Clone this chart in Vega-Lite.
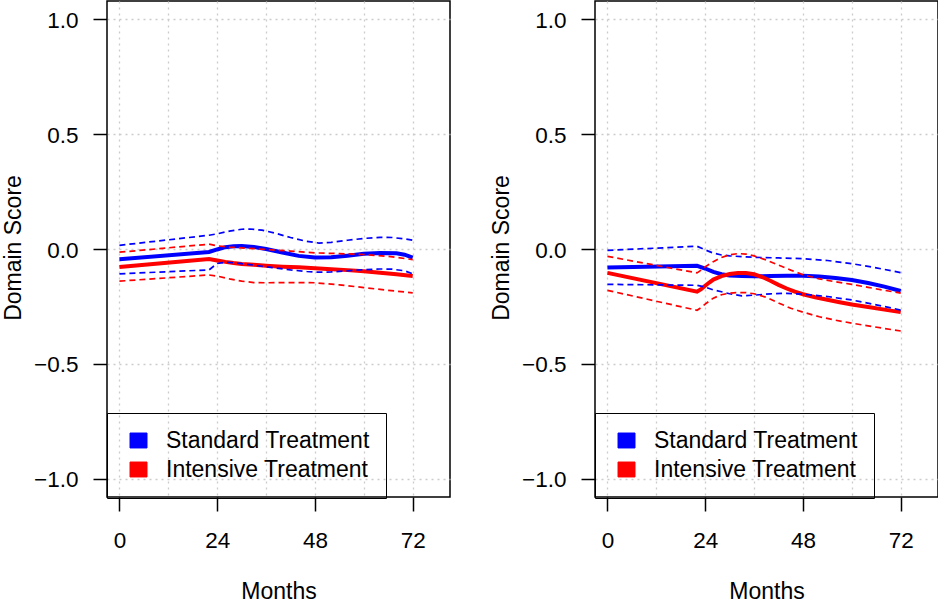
{
  "$schema": "https://vega.github.io/schema/vega-lite/v6.json",
  "padding": {"left": 1, "top": 0, "right": 0, "bottom": 0},
  "spacing": 145,
  "bounds": "flush",
  "resolve": {"legend": {"color": "independent"}},
  "datasets": {
    "d": [
      {"p":"L","g":"Standard Treatment","s":"mean","m":0,"v":-0.045},
      {"p":"L","g":"Standard Treatment","s":"mean","m":22,"v":-0.013},
      {"p":"L","g":"Standard Treatment","s":"mean","m":24,"v":-0.002},
      {"p":"L","g":"Standard Treatment","s":"mean","m":26,"v":0.008},
      {"p":"L","g":"Standard Treatment","s":"mean","m":28,"v":0.012},
      {"p":"L","g":"Standard Treatment","s":"mean","m":30,"v":0.013},
      {"p":"L","g":"Standard Treatment","s":"mean","m":33,"v":0.009},
      {"p":"L","g":"Standard Treatment","s":"mean","m":36,"v":0.000},
      {"p":"L","g":"Standard Treatment","s":"mean","m":40,"v":-0.015},
      {"p":"L","g":"Standard Treatment","s":"mean","m":44,"v":-0.030},
      {"p":"L","g":"Standard Treatment","s":"mean","m":48,"v":-0.037},
      {"p":"L","g":"Standard Treatment","s":"mean","m":52,"v":-0.036},
      {"p":"L","g":"Standard Treatment","s":"mean","m":56,"v":-0.029},
      {"p":"L","g":"Standard Treatment","s":"mean","m":60,"v":-0.021},
      {"p":"L","g":"Standard Treatment","s":"mean","m":64,"v":-0.017},
      {"p":"L","g":"Standard Treatment","s":"mean","m":68,"v":-0.019},
      {"p":"L","g":"Standard Treatment","s":"mean","m":70,"v":-0.025},
      {"p":"L","g":"Standard Treatment","s":"mean","m":72,"v":-0.038},

      {"p":"L","g":"Standard Treatment","s":"hi","m":0,"v":0.016},
      {"p":"L","g":"Standard Treatment","s":"hi","m":22,"v":0.060},
      {"p":"L","g":"Standard Treatment","s":"hi","m":24,"v":0.066},
      {"p":"L","g":"Standard Treatment","s":"hi","m":27,"v":0.078},
      {"p":"L","g":"Standard Treatment","s":"hi","m":30,"v":0.086},
      {"p":"L","g":"Standard Treatment","s":"hi","m":32,"v":0.087},
      {"p":"L","g":"Standard Treatment","s":"hi","m":35,"v":0.082},
      {"p":"L","g":"Standard Treatment","s":"hi","m":38,"v":0.070},
      {"p":"L","g":"Standard Treatment","s":"hi","m":42,"v":0.050},
      {"p":"L","g":"Standard Treatment","s":"hi","m":46,"v":0.033},
      {"p":"L","g":"Standard Treatment","s":"hi","m":49,"v":0.026},
      {"p":"L","g":"Standard Treatment","s":"hi","m":52,"v":0.029},
      {"p":"L","g":"Standard Treatment","s":"hi","m":56,"v":0.038},
      {"p":"L","g":"Standard Treatment","s":"hi","m":60,"v":0.046},
      {"p":"L","g":"Standard Treatment","s":"hi","m":64,"v":0.051},
      {"p":"L","g":"Standard Treatment","s":"hi","m":67,"v":0.050},
      {"p":"L","g":"Standard Treatment","s":"hi","m":70,"v":0.044},
      {"p":"L","g":"Standard Treatment","s":"hi","m":72,"v":0.038},

      {"p":"L","g":"Standard Treatment","s":"lo","m":0,"v":-0.108},
      {"p":"L","g":"Standard Treatment","s":"lo","m":22,"v":-0.091},
      {"p":"L","g":"Standard Treatment","s":"lo","m":24,"v":-0.063},
      {"p":"L","g":"Standard Treatment","s":"lo","m":26,"v":-0.058},
      {"p":"L","g":"Standard Treatment","s":"lo","m":28,"v":-0.060},
      {"p":"L","g":"Standard Treatment","s":"lo","m":30,"v":-0.064},
      {"p":"L","g":"Standard Treatment","s":"lo","m":32,"v":-0.068},
      {"p":"L","g":"Standard Treatment","s":"lo","m":35,"v":-0.075},
      {"p":"L","g":"Standard Treatment","s":"lo","m":38,"v":-0.082},
      {"p":"L","g":"Standard Treatment","s":"lo","m":42,"v":-0.091},
      {"p":"L","g":"Standard Treatment","s":"lo","m":46,"v":-0.098},
      {"p":"L","g":"Standard Treatment","s":"lo","m":49,"v":-0.101},
      {"p":"L","g":"Standard Treatment","s":"lo","m":52,"v":-0.100},
      {"p":"L","g":"Standard Treatment","s":"lo","m":56,"v":-0.095},
      {"p":"L","g":"Standard Treatment","s":"lo","m":60,"v":-0.090},
      {"p":"L","g":"Standard Treatment","s":"lo","m":64,"v":-0.087},
      {"p":"L","g":"Standard Treatment","s":"lo","m":67,"v":-0.088},
      {"p":"L","g":"Standard Treatment","s":"lo","m":70,"v":-0.095},
      {"p":"L","g":"Standard Treatment","s":"lo","m":72,"v":-0.108},

      {"p":"L","g":"Intensive Treatment","s":"mean","m":0,"v":-0.078},
      {"p":"L","g":"Intensive Treatment","s":"mean","m":22,"v":-0.044},
      {"p":"L","g":"Intensive Treatment","s":"mean","m":24,"v":-0.050},
      {"p":"L","g":"Intensive Treatment","s":"mean","m":26,"v":-0.056},
      {"p":"L","g":"Intensive Treatment","s":"mean","m":28,"v":-0.061},
      {"p":"L","g":"Intensive Treatment","s":"mean","m":30,"v":-0.065},
      {"p":"L","g":"Intensive Treatment","s":"mean","m":33,"v":-0.069},
      {"p":"L","g":"Intensive Treatment","s":"mean","m":36,"v":-0.073},
      {"p":"L","g":"Intensive Treatment","s":"mean","m":40,"v":-0.077},
      {"p":"L","g":"Intensive Treatment","s":"mean","m":44,"v":-0.080},
      {"p":"L","g":"Intensive Treatment","s":"mean","m":48,"v":-0.084},
      {"p":"L","g":"Intensive Treatment","s":"mean","m":52,"v":-0.088},
      {"p":"L","g":"Intensive Treatment","s":"mean","m":56,"v":-0.092},
      {"p":"L","g":"Intensive Treatment","s":"mean","m":60,"v":-0.097},
      {"p":"L","g":"Intensive Treatment","s":"mean","m":64,"v":-0.103},
      {"p":"L","g":"Intensive Treatment","s":"mean","m":68,"v":-0.110},
      {"p":"L","g":"Intensive Treatment","s":"mean","m":72,"v":-0.118},

      {"p":"L","g":"Intensive Treatment","s":"hi","m":0,"v":-0.014},
      {"p":"L","g":"Intensive Treatment","s":"hi","m":22,"v":0.021},
      {"p":"L","g":"Intensive Treatment","s":"hi","m":24,"v":0.014},
      {"p":"L","g":"Intensive Treatment","s":"hi","m":27,"v":0.008},
      {"p":"L","g":"Intensive Treatment","s":"hi","m":30,"v":0.005},
      {"p":"L","g":"Intensive Treatment","s":"hi","m":36,"v":-0.002},
      {"p":"L","g":"Intensive Treatment","s":"hi","m":42,"v":-0.009},
      {"p":"L","g":"Intensive Treatment","s":"hi","m":48,"v":-0.017},
      {"p":"L","g":"Intensive Treatment","s":"hi","m":54,"v":-0.020},
      {"p":"L","g":"Intensive Treatment","s":"hi","m":60,"v":-0.024},
      {"p":"L","g":"Intensive Treatment","s":"hi","m":66,"v":-0.032},
      {"p":"L","g":"Intensive Treatment","s":"hi","m":72,"v":-0.046},

      {"p":"L","g":"Intensive Treatment","s":"lo","m":0,"v":-0.140},
      {"p":"L","g":"Intensive Treatment","s":"lo","m":22,"v":-0.113},
      {"p":"L","g":"Intensive Treatment","s":"lo","m":24,"v":-0.118},
      {"p":"L","g":"Intensive Treatment","s":"lo","m":27,"v":-0.130},
      {"p":"L","g":"Intensive Treatment","s":"lo","m":30,"v":-0.140},
      {"p":"L","g":"Intensive Treatment","s":"lo","m":33,"v":-0.146},
      {"p":"L","g":"Intensive Treatment","s":"lo","m":36,"v":-0.147},
      {"p":"L","g":"Intensive Treatment","s":"lo","m":42,"v":-0.146},
      {"p":"L","g":"Intensive Treatment","s":"lo","m":48,"v":-0.147},
      {"p":"L","g":"Intensive Treatment","s":"lo","m":54,"v":-0.156},
      {"p":"L","g":"Intensive Treatment","s":"lo","m":60,"v":-0.168},
      {"p":"L","g":"Intensive Treatment","s":"lo","m":66,"v":-0.180},
      {"p":"L","g":"Intensive Treatment","s":"lo","m":72,"v":-0.191},

      {"p":"R","g":"Standard Treatment","s":"mean","m":0,"v":-0.081},
      {"p":"R","g":"Standard Treatment","s":"mean","m":22,"v":-0.073},
      {"p":"R","g":"Standard Treatment","s":"mean","m":24,"v":-0.085},
      {"p":"R","g":"Standard Treatment","s":"mean","m":26,"v":-0.100},
      {"p":"R","g":"Standard Treatment","s":"mean","m":28,"v":-0.110},
      {"p":"R","g":"Standard Treatment","s":"mean","m":30,"v":-0.115},
      {"p":"R","g":"Standard Treatment","s":"mean","m":33,"v":-0.118},
      {"p":"R","g":"Standard Treatment","s":"mean","m":36,"v":-0.119},
      {"p":"R","g":"Standard Treatment","s":"mean","m":40,"v":-0.118},
      {"p":"R","g":"Standard Treatment","s":"mean","m":44,"v":-0.117},
      {"p":"R","g":"Standard Treatment","s":"mean","m":48,"v":-0.117},
      {"p":"R","g":"Standard Treatment","s":"mean","m":52,"v":-0.120},
      {"p":"R","g":"Standard Treatment","s":"mean","m":56,"v":-0.126},
      {"p":"R","g":"Standard Treatment","s":"mean","m":60,"v":-0.135},
      {"p":"R","g":"Standard Treatment","s":"mean","m":64,"v":-0.148},
      {"p":"R","g":"Standard Treatment","s":"mean","m":68,"v":-0.164},
      {"p":"R","g":"Standard Treatment","s":"mean","m":72,"v":-0.183},

      {"p":"R","g":"Standard Treatment","s":"hi","m":0,"v":-0.006},
      {"p":"R","g":"Standard Treatment","s":"hi","m":22,"v":0.012},
      {"p":"R","g":"Standard Treatment","s":"hi","m":24,"v":-0.004},
      {"p":"R","g":"Standard Treatment","s":"hi","m":26,"v":-0.018},
      {"p":"R","g":"Standard Treatment","s":"hi","m":28,"v":-0.026},
      {"p":"R","g":"Standard Treatment","s":"hi","m":30,"v":-0.030},
      {"p":"R","g":"Standard Treatment","s":"hi","m":33,"v":-0.033},
      {"p":"R","g":"Standard Treatment","s":"hi","m":36,"v":-0.036},
      {"p":"R","g":"Standard Treatment","s":"hi","m":42,"v":-0.039},
      {"p":"R","g":"Standard Treatment","s":"hi","m":48,"v":-0.042},
      {"p":"R","g":"Standard Treatment","s":"hi","m":54,"v":-0.050},
      {"p":"R","g":"Standard Treatment","s":"hi","m":60,"v":-0.064},
      {"p":"R","g":"Standard Treatment","s":"hi","m":66,"v":-0.082},
      {"p":"R","g":"Standard Treatment","s":"hi","m":72,"v":-0.103},

      {"p":"R","g":"Standard Treatment","s":"lo","m":0,"v":-0.154},
      {"p":"R","g":"Standard Treatment","s":"lo","m":22,"v":-0.158},
      {"p":"R","g":"Standard Treatment","s":"lo","m":24,"v":-0.166},
      {"p":"R","g":"Standard Treatment","s":"lo","m":26,"v":-0.178},
      {"p":"R","g":"Standard Treatment","s":"lo","m":28,"v":-0.186},
      {"p":"R","g":"Standard Treatment","s":"lo","m":30,"v":-0.195},
      {"p":"R","g":"Standard Treatment","s":"lo","m":33,"v":-0.204},
      {"p":"R","g":"Standard Treatment","s":"lo","m":36,"v":-0.201},
      {"p":"R","g":"Standard Treatment","s":"lo","m":40,"v":-0.195},
      {"p":"R","g":"Standard Treatment","s":"lo","m":44,"v":-0.193},
      {"p":"R","g":"Standard Treatment","s":"lo","m":48,"v":-0.197},
      {"p":"R","g":"Standard Treatment","s":"lo","m":54,"v":-0.207},
      {"p":"R","g":"Standard Treatment","s":"lo","m":60,"v":-0.222},
      {"p":"R","g":"Standard Treatment","s":"lo","m":66,"v":-0.243},
      {"p":"R","g":"Standard Treatment","s":"lo","m":72,"v":-0.266},

      {"p":"R","g":"Intensive Treatment","s":"mean","m":0,"v":-0.104},
      {"p":"R","g":"Intensive Treatment","s":"mean","m":22,"v":-0.186},
      {"p":"R","g":"Intensive Treatment","s":"mean","m":23,"v":-0.175},
      {"p":"R","g":"Intensive Treatment","s":"mean","m":24,"v":-0.160},
      {"p":"R","g":"Intensive Treatment","s":"mean","m":25,"v":-0.146},
      {"p":"R","g":"Intensive Treatment","s":"mean","m":26,"v":-0.133},
      {"p":"R","g":"Intensive Treatment","s":"mean","m":28,"v":-0.118},
      {"p":"R","g":"Intensive Treatment","s":"mean","m":30,"v":-0.109},
      {"p":"R","g":"Intensive Treatment","s":"mean","m":32,"v":-0.105},
      {"p":"R","g":"Intensive Treatment","s":"mean","m":34,"v":-0.105},
      {"p":"R","g":"Intensive Treatment","s":"mean","m":36,"v":-0.110},
      {"p":"R","g":"Intensive Treatment","s":"mean","m":38,"v":-0.122},
      {"p":"R","g":"Intensive Treatment","s":"mean","m":40,"v":-0.138},
      {"p":"R","g":"Intensive Treatment","s":"mean","m":42,"v":-0.156},
      {"p":"R","g":"Intensive Treatment","s":"mean","m":44,"v":-0.172},
      {"p":"R","g":"Intensive Treatment","s":"mean","m":46,"v":-0.186},
      {"p":"R","g":"Intensive Treatment","s":"mean","m":48,"v":-0.197},
      {"p":"R","g":"Intensive Treatment","s":"mean","m":51,"v":-0.210},
      {"p":"R","g":"Intensive Treatment","s":"mean","m":54,"v":-0.221},
      {"p":"R","g":"Intensive Treatment","s":"mean","m":57,"v":-0.232},
      {"p":"R","g":"Intensive Treatment","s":"mean","m":60,"v":-0.242},
      {"p":"R","g":"Intensive Treatment","s":"mean","m":64,"v":-0.253},
      {"p":"R","g":"Intensive Treatment","s":"mean","m":68,"v":-0.264},
      {"p":"R","g":"Intensive Treatment","s":"mean","m":72,"v":-0.275},

      {"p":"R","g":"Intensive Treatment","s":"hi","m":0,"v":-0.032},
      {"p":"R","g":"Intensive Treatment","s":"hi","m":22,"v":-0.104},
      {"p":"R","g":"Intensive Treatment","s":"hi","m":23,"v":-0.092},
      {"p":"R","g":"Intensive Treatment","s":"hi","m":24,"v":-0.078},
      {"p":"R","g":"Intensive Treatment","s":"hi","m":26,"v":-0.055},
      {"p":"R","g":"Intensive Treatment","s":"hi","m":28,"v":-0.037},
      {"p":"R","g":"Intensive Treatment","s":"hi","m":30,"v":-0.025},
      {"p":"R","g":"Intensive Treatment","s":"hi","m":32,"v":-0.020},
      {"p":"R","g":"Intensive Treatment","s":"hi","m":34,"v":-0.022},
      {"p":"R","g":"Intensive Treatment","s":"hi","m":36,"v":-0.030},
      {"p":"R","g":"Intensive Treatment","s":"hi","m":39,"v":-0.048},
      {"p":"R","g":"Intensive Treatment","s":"hi","m":42,"v":-0.070},
      {"p":"R","g":"Intensive Treatment","s":"hi","m":45,"v":-0.092},
      {"p":"R","g":"Intensive Treatment","s":"hi","m":48,"v":-0.112},
      {"p":"R","g":"Intensive Treatment","s":"hi","m":52,"v":-0.130},
      {"p":"R","g":"Intensive Treatment","s":"hi","m":56,"v":-0.143},
      {"p":"R","g":"Intensive Treatment","s":"hi","m":60,"v":-0.154},
      {"p":"R","g":"Intensive Treatment","s":"hi","m":64,"v":-0.167},
      {"p":"R","g":"Intensive Treatment","s":"hi","m":68,"v":-0.180},
      {"p":"R","g":"Intensive Treatment","s":"hi","m":72,"v":-0.192},

      {"p":"R","g":"Intensive Treatment","s":"lo","m":0,"v":-0.180},
      {"p":"R","g":"Intensive Treatment","s":"lo","m":22,"v":-0.267},
      {"p":"R","g":"Intensive Treatment","s":"lo","m":23,"v":-0.255},
      {"p":"R","g":"Intensive Treatment","s":"lo","m":24,"v":-0.240},
      {"p":"R","g":"Intensive Treatment","s":"lo","m":26,"v":-0.214},
      {"p":"R","g":"Intensive Treatment","s":"lo","m":28,"v":-0.199},
      {"p":"R","g":"Intensive Treatment","s":"lo","m":30,"v":-0.192},
      {"p":"R","g":"Intensive Treatment","s":"lo","m":32,"v":-0.190},
      {"p":"R","g":"Intensive Treatment","s":"lo","m":34,"v":-0.190},
      {"p":"R","g":"Intensive Treatment","s":"lo","m":36,"v":-0.195},
      {"p":"R","g":"Intensive Treatment","s":"lo","m":39,"v":-0.210},
      {"p":"R","g":"Intensive Treatment","s":"lo","m":42,"v":-0.235},
      {"p":"R","g":"Intensive Treatment","s":"lo","m":45,"v":-0.258},
      {"p":"R","g":"Intensive Treatment","s":"lo","m":48,"v":-0.275},
      {"p":"R","g":"Intensive Treatment","s":"lo","m":52,"v":-0.295},
      {"p":"R","g":"Intensive Treatment","s":"lo","m":56,"v":-0.310},
      {"p":"R","g":"Intensive Treatment","s":"lo","m":60,"v":-0.323},
      {"p":"R","g":"Intensive Treatment","s":"lo","m":64,"v":-0.335},
      {"p":"R","g":"Intensive Treatment","s":"lo","m":68,"v":-0.346},
      {"p":"R","g":"Intensive Treatment","s":"lo","m":72,"v":-0.357}
    ]
  },
  "hconcat": [
    {
      "width": 343, "height": 496,
      "data": {"name": "d"},
      "transform": [{"filter": "datum.p === 'L'"}],
      "encoding": {
        "x": {"field": "m", "type": "quantitative",
          "scale": {"domain": [-3.05, 81.15], "nice": false, "zero": false},
          "axis": {"values": [0, 12, 24, 36, 48, 60, 72], "format": "d",
            "labelExpr": "datum.value % 24 === 0 ? datum.label : ''",
            "tickOpacity": {"condition": {"test": "datum.value % 24 === 0", "value": 1}, "value": 0},
            "title": "Months", "titleX": 171.5, "titleY": 101, "titleBaseline": "alphabetic",
            "labelBaseline": "alphabetic", "labelPadding": 36}},
        "y": {"field": "v", "type": "quantitative",
          "scale": {"domain": [-1.08, 1.08], "nice": false, "zero": false},
          "axis": {"values": [-1, -0.5, 0, 0.5, 1], "format": ".1f",
            "title": "Domain Score", "titleAngle": 270, "titleX": -87, "titleY": 246.5,
            "titleBaseline": "alphabetic", "titleAlign": "center",
            "labelPadding": 15, "labelBaseline": "alphabetic", "labelOffset": 8}},
        "color": {"field": "g", "type": "nominal",
          "scale": {"domain": ["Standard Treatment", "Intensive Treatment"], "range": ["#0000ff", "#ff0000"]},
          "legend": {"orient": "none", "legendX": 0, "legendY": 412, "title": null,
            "strokeColor": "black", "padding": 16,
            "symbolType": "M-1,-0.88L1,-0.88L1,0.88L-1,0.88Z", "symbolSize": 289,
            "symbolStrokeWidth": 1, "symbolStrokeColor": "black", "symbolOffset": 4,
            "labelOffset": 16, "labelFont": "Liberation Sans", "labelFontSize": 23,
            "labelColor": "black", "labelLimit": 400, "rowPadding": 5,
            "encode": {"symbols": {"update": {"fill": {"scale": "color", "field": "value"}, "stroke": {"value": "black"}, "strokeWidth": {"value": 1}, "strokeDash": {"value": [1, 0]}, "opacity": {"value": 1}}}}}}
      },
      "layer": [
        {"transform": [{"filter": "datum.s === 'mean'"}], "mark": {"type": "line", "strokeWidth": 4}},
        {"transform": [{"filter": "datum.s !== 'mean'"}], "mark": {"type": "line", "strokeWidth": 1.7, "strokeDash": [6, 4]}, "encoding": {"detail": {"field": "s"}}}
      ]
    },
    {
      "width": 343, "height": 496,
      "data": {"name": "d"},
      "transform": [{"filter": "datum.p === 'R'"}],
      "encoding": {
        "x": {"field": "m", "type": "quantitative",
          "scale": {"domain": [-3.05, 81.15], "nice": false, "zero": false},
          "axis": {"values": [0, 12, 24, 36, 48, 60, 72], "format": "d",
            "labelExpr": "datum.value % 24 === 0 ? datum.label : ''",
            "tickOpacity": {"condition": {"test": "datum.value % 24 === 0", "value": 1}, "value": 0},
            "title": "Months", "titleX": 171.5, "titleY": 101, "titleBaseline": "alphabetic",
            "labelBaseline": "alphabetic", "labelPadding": 36}},
        "y": {"field": "v", "type": "quantitative",
          "scale": {"domain": [-1.08, 1.08], "nice": false, "zero": false},
          "axis": {"values": [-1, -0.5, 0, 0.5, 1], "format": ".1f",
            "title": "Domain Score", "titleAngle": 270, "titleX": -87, "titleY": 246.5,
            "titleBaseline": "alphabetic", "titleAlign": "center",
            "labelPadding": 15, "labelBaseline": "alphabetic", "labelOffset": 8}},
        "color": {"field": "g", "type": "nominal",
          "scale": {"domain": ["Standard Treatment", "Intensive Treatment"], "range": ["#0000ff", "#ff0000"]},
          "legend": {"orient": "none", "legendX": 0, "legendY": 412, "title": null,
            "strokeColor": "black", "padding": 16,
            "symbolType": "M-1,-0.88L1,-0.88L1,0.88L-1,0.88Z", "symbolSize": 289,
            "symbolStrokeWidth": 1, "symbolStrokeColor": "black", "symbolOffset": 4,
            "labelOffset": 16, "labelFont": "Liberation Sans", "labelFontSize": 23,
            "labelColor": "black", "labelLimit": 400, "rowPadding": 5,
            "encode": {"symbols": {"update": {"fill": {"scale": "color", "field": "value"}, "stroke": {"value": "black"}, "strokeWidth": {"value": 1}, "strokeDash": {"value": [1, 0]}, "opacity": {"value": 1}}}}}}
      },
      "layer": [
        {"transform": [{"filter": "datum.s === 'mean'"}], "mark": {"type": "line", "strokeWidth": 4}},
        {"transform": [{"filter": "datum.s !== 'mean'"}], "mark": {"type": "line", "strokeWidth": 1.7, "strokeDash": [6, 4]}, "encoding": {"detail": {"field": "s"}}}
      ]
    }
  ],
  "config": {
    "font": "Liberation Sans",
    "view": {"stroke": "black", "strokeWidth": 1.5},
    "axis": {"labelFont": "Liberation Sans", "labelFontSize": 22.5, "labelColor": "black",
      "titleFont": "Liberation Sans", "titleFontSize": 23, "titleFontWeight": "normal", "titleColor": "black",
      "tickColor": "black", "tickWidth": 1.5, "tickSize": 14, "domain": false,
      "grid": true, "gridColor": "#cccccc", "gridDash": [2, 4], "gridWidth": 1.3,
      "labelFlush": false, "labelOverlap": false, "labelBound": false}
  }
}
